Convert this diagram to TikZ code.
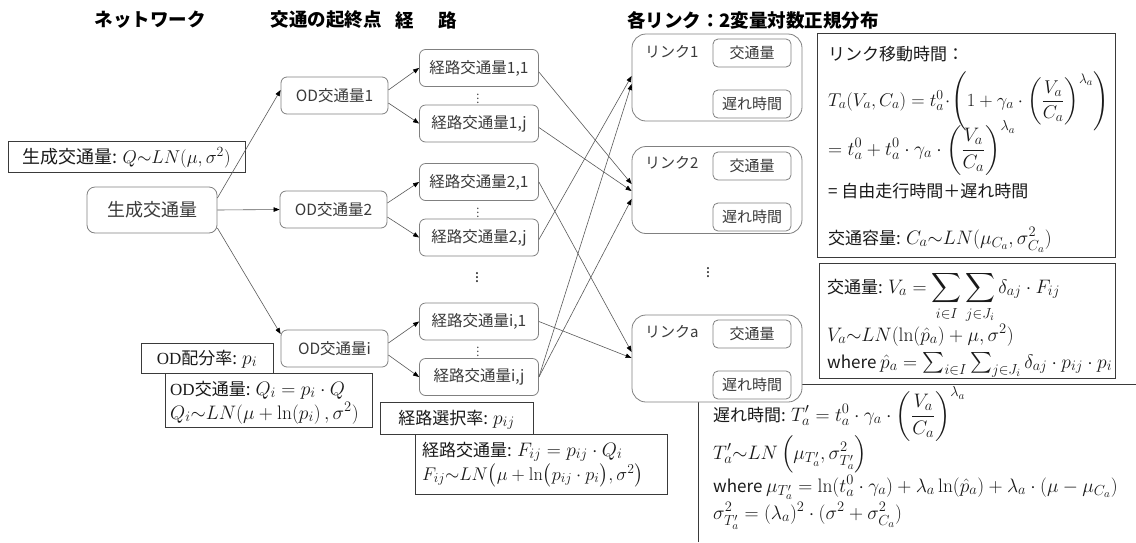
\RequirePackage{fix-cm}
\documentclass[tikz,border=0pt]{standalone}
\usepackage{amsmath}
\usepackage{graphicx}
\usepackage[no-math]{fontspec}
\setmainfont{Noto Sans CJK JP}
\newfontfamily\hdrfont{Noto Sans CJK JP}
\newfontfamily\serL{Liberation Serif}
\DeclareMathSizes{17}{19.5}{14.5}{11}
\DeclareMathSizes{18}{18.5}{14}{11}
\usetikzlibrary{arrows.meta}
\definecolor{bord}{HTML}{808080}
\definecolor{txt}{HTML}{3A3A3A}
\definecolor{ln}{HTML}{5A5A5A}
\definecolor{fbord}{HTML}{3A3A3A}
\definecolor{ftc}{HTML}{1A1A1A}
\begin{document}
\begin{tikzpicture}[x=1pt,y=-1pt,
  rbox/.style={draw=bord,line width=0.8pt,rounded corners=6pt,fill=white,text=txt,inner sep=0pt,font=\fontsize{15.5}{18}\selectfont},
  odbox/.style={rbox,minimum width=107pt,minimum height=37pt},
  rtbox/.style={rbox,minimum width=119pt,minimum height=37pt},
  lkbox/.style={rbox,rounded corners=14pt,minimum width=170pt,minimum height=87pt},
  inbox/.style={rbox,rounded corners=5pt,minimum width=78pt,minimum height=28pt,font=\fontsize{15}{18}\selectfont},
  lklab/.style={anchor=west,inner sep=0pt,text=txt,font=\fontsize{15}{18}\selectfont},
  fbox/.style={draw=fbord,line width=0.9pt,inner sep=0pt,anchor=north west},
  ftxt/.style={anchor=base west,inner sep=0pt,text=ftc,font=\fontsize{17}{20}\selectfont},
  ctxt/.style={anchor=base,inner sep=0pt,text=ftc,font=\fontsize{17}{20}\selectfont},
  hdr/.style={inner sep=0pt,text=black,font=\hdrfont\bfseries\fontsize{18.5}{22}\selectfont},
  arr/.style={draw=ln,line width=0.6pt,-{Triangle[length=6pt,width=4.5pt,color=black]}},
  dts/.style={inner sep=0pt,text=txt}
]
\useasboundingbox (0,0) rectangle (1136,542);
\fill[white] (0,0) rectangle (1136,542);

% headers
\node[hdr] (h1) at (150,20) {ネットワーク};
\node[hdr] (h2) at (326,20) {交通の起終点};
\node[hdr] (h3) at (426,20) {経\hspace{25pt}路};
\node[hdr,anchor=west] (h4) at (627,20) {各リンク：2変量対数正規分布};

% delay box (partly off the page)
\coordinate (b3a) at (698,542);
\coordinate (b3b) at (698,384);
\coordinate (b3c) at (1136,384);
\draw[fbord,line width=0.9pt] (b3a) -- (b3b) -- (b3c);

% links
\node[lkbox] (link1) at (717,77.5) {};
\node[lkbox] (link2) at (717,190) {};
\node[lkbox] (linka) at (717,358.5) {};
\node[lklab] (l1lab) at (645,52) {リンク1};
\node[lklab] (l2lab) at (645,163) {リンク2};
\node[lklab] (lalab) at (645,332) {リンクa};
\node[inbox] (l1v) at (752,53) {交通量};
\node[inbox] (l1d) at (752,104) {遅れ時間};
\node[inbox] (l2v) at (752,166) {交通量};
\node[inbox] (l2d) at (752,217) {遅れ時間};
\node[inbox] (lav) at (752,334) {交通量};
\node[inbox] (lad) at (752,385) {遅れ時間};
\node[dts,font=\fontsize{16}{18}\selectfont] (ldots) at (708,270) {$\vdots$};

% generation
\node[rbox,rounded corners=8pt,minimum width=130pt,minimum height=46pt,font=\fontsize{18}{20}\selectfont] (gen) at (152,210) {生成交通量};

% OD nodes
\node[odbox] (od1) at (334.5,95.5) {OD交通量1};
\node[odbox] (od2) at (333.5,209.5) {OD交通量2};
\node[odbox] (odi) at (334.5,348.5) {OD交通量i};

% route nodes
\node[rtbox] (r11) at (479,68) {経路交通量1,1};
\node[rtbox] (r1j) at (479,123.5) {経路交通量1,j};
\node[rtbox] (r21) at (479,182) {経路交通量2,1};
\node[rtbox] (r2j) at (479,237.5) {経路交通量2,j};
\node[rtbox] (ri1) at (479,321.5) {経路交通量i,1};
\node[rtbox] (rij) at (479,377) {経路交通量i,j};
\node[dts,font=\fontsize{11}{12}\selectfont] (d1) at (478,96) {$\vdots$};
\node[dts,font=\fontsize{11}{12}\selectfont] (d2) at (478,210) {$\vdots$};
\node[dts,font=\fontsize{16}{18}\selectfont] (d3) at (477,275) {$\vdots$};
\node[dts,font=\fontsize{11}{12}\selectfont] (d4) at (478,349) {$\vdots$};

% formula boxes
\node[fbox,minimum width=237pt,minimum height=31pt] (bq) at (8,141) {};
\node[ctxt,font=\fontsize{18}{20}\selectfont] (tq) at (126.5,163) {生成交通量: $Q{\sim}LN(\mu,\sigma^2)$};

\node[fbox,minimum width=207pt,minimum height=54pt] (bqi) at (165,373) {};
\node[fbox,minimum width=132pt,minimum height=30pt] (bpi) at (141,343) {};
\node[ctxt] (tpi) at (207,364) {{\serL OD}配分率: $p_i$};
\node[ftxt] (tqi1) at (170,395) {{\serL OD}交通量: $Q_i = p_i\cdot Q$};
\node[ftxt] (tqi2) at (170,419) {$Q_i{\sim}LN(\mu+\ln(p_i)\,,\sigma^2)$};

\node[fbox,minimum width=252pt,minimum height=60pt] (bf) at (415,434) {};
\node[fbox,minimum width=153pt,minimum height=32pt] (bpij) at (380,402) {};
\node[ctxt] (tpij) at (456.5,424) {経路選択率: $p_{ij}$};
\node[ftxt] (tf1) at (422,456) {経路交通量: $F_{ij} = p_{ij}\cdot Q_i$};
\node[ftxt] (tf2) at (422,480) {\scalebox{0.94}{$F_{ij}{\sim}LN\bigl(\mu+\ln\bigl(p_{ij}\cdot p_i\bigr),\sigma^2\bigr)$}};

% link time box
\node[fbox,minimum width=298pt,minimum height=224pt] (b1) at (817,33) {};
\node[ftxt] (t11) at (828,60) {リンク移動時間：};
\node[ftxt] (t12) at (828,106) {\scalebox{0.95}{$T_a(V_a,C_a) = t_a^0\!\cdot\!\left(1+\gamma_a\cdot\left(\dfrac{V_a}{C_a}\right)^{\lambda_a}\right)$}};
\node[ftxt] (t13) at (828,155) {$= t_a^0 + t_a^0\cdot\gamma_a\cdot\left(\dfrac{V_a}{C_a}\right)^{\lambda_a}$};
\node[ftxt] (t14) at (828,197) {= 自由走行時間＋遅れ時間};
\node[ftxt] (t15) at (828,244) {交通容量: $C_a{\sim}LN(\mu_{C_a},\sigma_{C_a}^2)$};

% link volume box
\node[fbox,minimum width=296pt,minimum height=115pt] (b2) at (819,263) {};
\node[ftxt] (t21) at (827,293) {交通量: $V_a = \displaystyle\sum_{i\in I}\sum_{j\in J_i}\delta_{aj}\cdot F_{ij}$};
\node[ftxt] (t22) at (827,341) {$V_a{\sim}LN(\ln(\hat{p}_a)+\mu,\sigma^2)$};
\node[ftxt] (t23) at (827,368) {where $\hat{p}_a = \sum_{i\in I}\sum_{j\in J_i}\delta_{aj}\cdot p_{ij}\cdot p_i$};

% delay texts
\node[ftxt] (t31) at (713,421) {遅れ時間: $T_a' = t_a^0\cdot\gamma_a\cdot\left(\dfrac{V_a}{C_a}\right)^{\lambda_a}$};
\node[ftxt] (t32) at (713,459) {$T_a'{\sim}LN\left(\mu_{T_a'},\sigma_{T_a'}^2\right)$};
\node[ftxt] (t33) at (713,492) {where $\mu_{T_a'} = \ln(t_a^0\cdot\gamma_a)+\lambda_a\ln(\hat{p}_a)+\lambda_a\cdot(\mu-\mu_{C_a})$};
\node[ftxt] (t34) at (713,519) {$\sigma_{T_a'}^2 = (\lambda_a)^2\cdot(\sigma^2+\sigma_{C_a}^2)$};

% connectors
\draw[arr] ([yshift=12pt]gen.east) -- ([yshift=5.5pt]od1.west);
\draw[arr] (gen.east) -- (od2.west);
\draw[arr] ([yshift=-18pt]gen.east) -- ([yshift=14.5pt]odi.west);

\draw[arr] ([yshift=5.5pt]od1.east) -- (r11.west);
\draw[arr] ([yshift=-7.5pt]od1.east) -- (r1j.west);
\draw[arr] ([yshift=6.5pt]od2.east) -- (r21.west);
\draw[arr] ([yshift=-7.5pt]od2.east) -- (r2j.west);
\draw[arr] ([yshift=5.5pt]odi.east) -- (ri1.west);
\draw[arr] ([yshift=-6.5pt]odi.east) -- (rij.west);

\draw[arr] ([yshift=-4pt]r11.east) -- ([yshift=6pt]link2.west);
\draw[arr] ([yshift=-4pt]r1j.east) -- ([yshift=-1pt]link2.west);
\draw[arr] (r21.east) -- ([yshift=6.5pt]linka.west);
\draw[arr] ([yshift=-2pt]r2j.east) -- ([yshift=1.5pt]link1.west);
\draw[arr] (ri1.east) -- ([yshift=0.5pt]linka.west);
\draw[arr] (rij.east) -- ([yshift=-6.5pt]link1.west);
\draw[arr] (rij.east) -- ([yshift=-9pt]link2.west);
\end{tikzpicture}
\end{document}
